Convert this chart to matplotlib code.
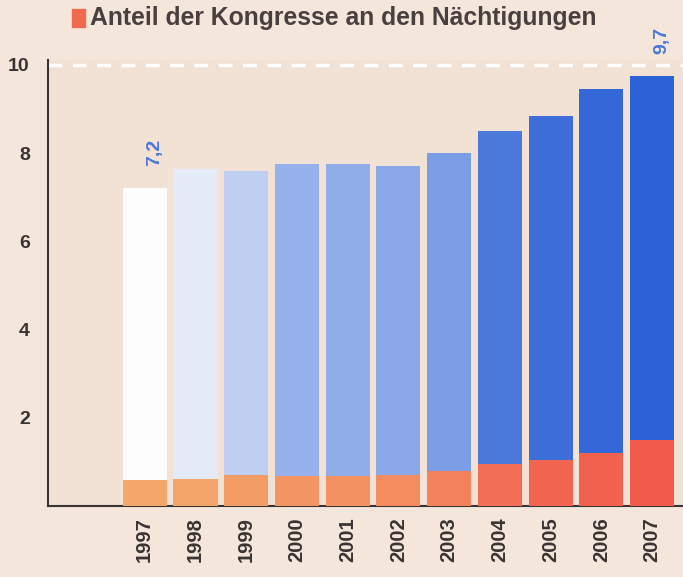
import numpy as np
import matplotlib.pyplot as plt
from matplotlib.colors import to_rgb

years = ['1997', '1998', '1999', '2000', '2001', '2002', '2003', '2004', '2005', '2006', '2007']
total = [7.2, 7.65, 7.6, 7.75, 7.75, 7.7, 8.0, 8.5, 8.85, 9.45, 9.75]
kongresse = [0.6, 0.62, 0.7, 0.68, 0.68, 0.7, 0.8, 0.95, 1.05, 1.2, 1.5]
labels = {0: '7,2', 10: '9,7'}

fam = 'Liberation Sans'

def blend(c1, c2, t):
    a, b = np.array(to_rgb(c1)), np.array(to_rgb(c2))
    return tuple(a + (b - a) * t)

n = len(years)
t = np.array([0, 0.12, 0.3, 0.5, 0.52, 0.55, 0.62, 0.85, 0.92, 0.96, 1.0])
blues = [blend('#fdfdfd', '#2c62d6', v) for v in t]
ot = np.array([0, 0.05, 0.15, 0.25, 0.3, 0.35, 0.5, 0.75, 0.85, 0.92, 1.0])
oranges = [blend('#f3a86a', '#f25a4c', v) for v in ot]

fig = plt.figure(figsize=(6.83, 5.77), dpi=100)
fig.patch.set_facecolor('#f4e6da')
ax = fig.add_axes([0.070, 0.123, 0.93, 0.773])
ax.set_facecolor('#f2e2d6')

x = np.arange(n)
rest = np.array(total) - np.array(kongresse)
ax.bar(x, kongresse, width=0.87, color=oranges, zorder=3)
ax.bar(x, rest, bottom=kongresse, width=0.87, color=blues, zorder=3)
ax.axhline(10, color='white', lw=2.5, ls=(0, (4, 3)), zorder=2)

for i, s in labels.items():
    ax.text(x[i] + 0.2, total[i] + 0.5, s, rotation=90, ha='center', va='bottom',
            color='#4a78d8', fontsize=14, fontweight='bold', family=fam)

ax.set_xlim(-1.91, 10.61)
ax.set_ylim(0, 10.11)
ax.set_yticks([2, 4, 6, 8, 10])
ax.set_yticklabels(['2', '4', '6', '8', '10'], fontsize=14, fontweight='bold',
                   color='#3a3333', family=fam)
ax.tick_params(axis='y', length=0, pad=13)
ax.set_xticks(x)
ax.set_xticklabels(years, rotation=90, fontsize=14.5, fontweight='bold',
                   color='#3a3333', family=fam)
ax.tick_params(axis='x', length=0, pad=8)
for s in ['top', 'right']:
    ax.spines[s].set_visible(False)
for s in ['left', 'bottom']:
    ax.spines[s].set_linewidth(1.5)
    ax.spines[s].set_color('#3a3333')

fig.patches.append(plt.Rectangle((0.106, 0.953), 0.018, 0.032, transform=fig.transFigure,
                                 color='#f06a50', figure=fig))
fig.text(0.132, 0.968, 'Anteil der Kongresse an den Nächtigungen', fontsize=17.8,
         fontweight='bold', color='#4a3f3f', va='center', family=fam)

fig.savefig('out.png', dpi=100, facecolor=fig.get_facecolor())
